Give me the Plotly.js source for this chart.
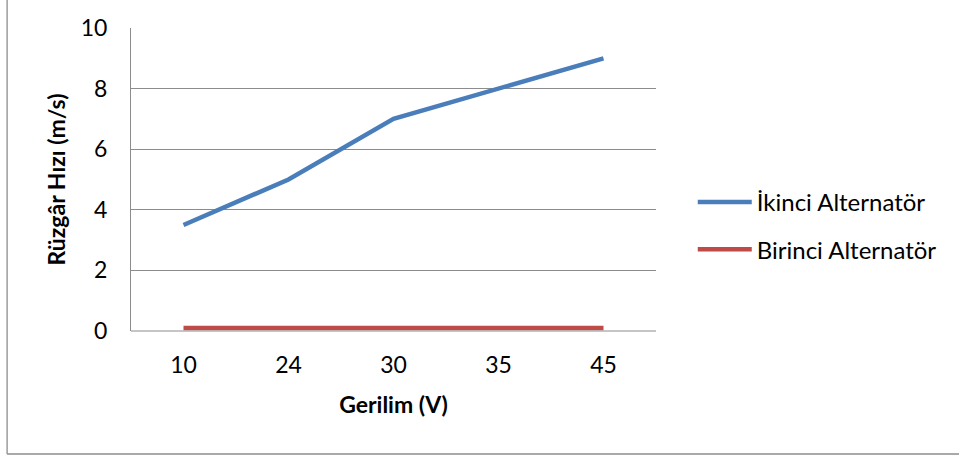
<!DOCTYPE html>
<html>
<head>
<meta charset="utf-8">
<script src="https://cdn.plot.ly/plotly-3.0.1.min.js"></script>
<style>
html,body{margin:0;padding:0;background:#fff;}
#chart{width:959px;height:459px;}
</style>
</head>
<body>
<div id="chart"></div>
<script>
const categories = ["10", "24", "30", "35", "45"];
const ikinciValues = [3.5, 5, 7, 8, 9];
const birinciValues = [0.1, 0.1, 0.1, 0.1, 0.1];
const seriesNames = ["İkinci Alternatör", "Birinci Alternatör"];
const yTicks = [0, 2, 4, 6, 8, 10];

const fontFam = "Lato, 'Open Sans', sans-serif";

const traces = [
  {x: categories, y: ikinciValues, name: seriesNames[0], type: "scatter", mode: "lines",
   line: {color: "#4a7ebb", width: 4.5}, legendgroup: "a"},
  {x: categories, y: birinciValues, name: seriesNames[1], type: "scatter", mode: "lines",
   line: {color: "#be4b48", width: 4.5}, legendgroup: "b"}
];

const layout = {
  width: 959, height: 459,
  margin: {l: 131, r: 303, t: 28, b: 128},
  paper_bgcolor: "#fff", plot_bgcolor: "#fff",
  font: {family: fontFam, color: "#000", size: 23},
  showlegend: true,
  legend: {x: 1.07, y: 0.347, xanchor: "left", yanchor: "middle", itemwidth: 54,
           tracegroupgap: 13, font: {size: 24, family: fontFam}, bgcolor: "rgba(0,0,0,0)"},
  xaxis: {
    type: "category", range: [-0.5, 4.5], showgrid: false, zeroline: false,
    showline: false, ticks: "outside", ticklen: 13, tickcolor: "rgba(0,0,0,0)",
    tickfont: {size: 23}, automargin: false,
    title: {text: "<b>Gerilim (V)</b>", font: {size: 23}, standoff: 20}
  },
  yaxis: {
    range: [0, 10], tickvals: yTicks, showgrid: true, gridcolor: "#8c8c8c", gridwidth: 1,
    zeroline: false, showline: true, linecolor: "#8c8c8c", linewidth: 1,
    ticks: "outside", ticklen: 18, tickcolor: "rgba(0,0,0,0)", tickfont: {size: 23},
    automargin: false,
    title: {text: "<b>Rüzgâr Hızı (m/s)</b>", font: {size: 23}, standoff: 8}
  },
  shapes: [
    {type: "line", xref: "paper", yref: "paper", x0: 0, x1: 1, y0: 0, y1: 0,
     line: {color: "#8c8c8c", width: 1}},
    {type: "line", xref: "paper", yref: "paper", x0: -0.236, x1: -0.236, y0: -0.406, y1: 1.1,
     line: {color: "#8c8c8c", width: 1.3}},
    {type: "line", xref: "paper", yref: "paper", x0: -0.236, x1: 1.6, y0: -0.406, y1: -0.406,
     line: {color: "#8c8c8c", width: 1.3}}
  ]
};

Plotly.newPlot("chart", traces, layout, {displayModeBar: false, staticPlot: true});
</script>
</body>
</html>
